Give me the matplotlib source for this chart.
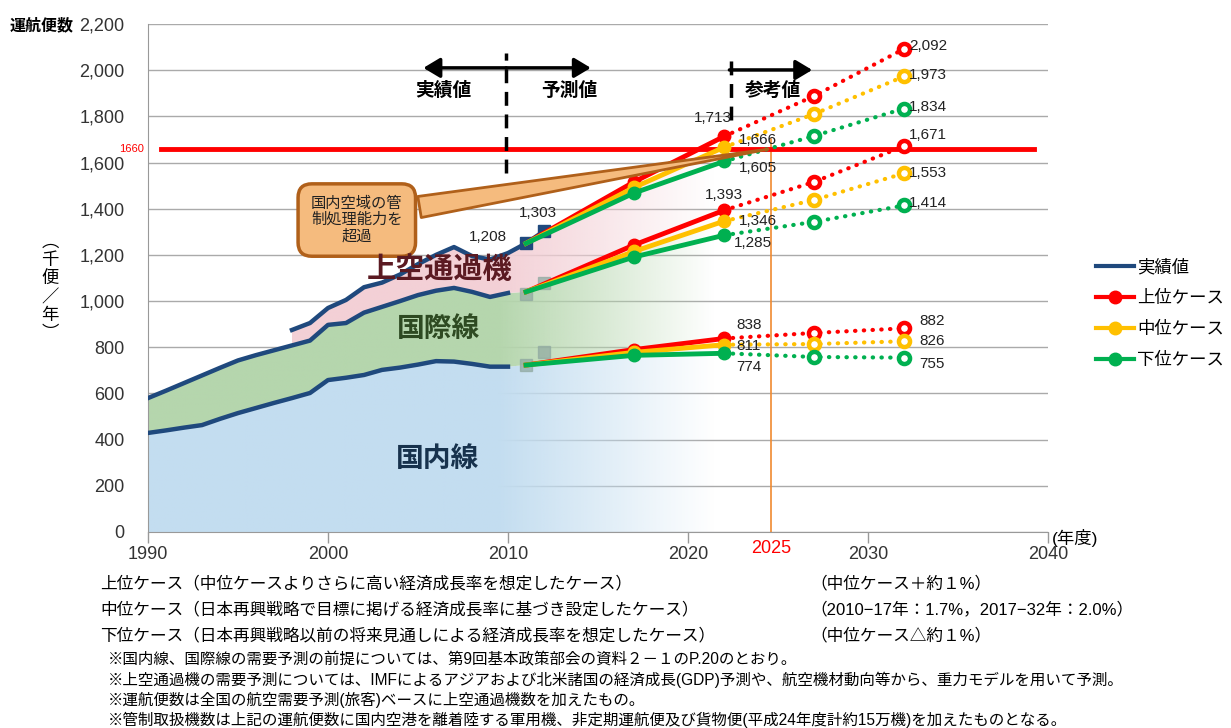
import numpy as np
import matplotlib
matplotlib.use('Agg')
import matplotlib.pyplot as plt
import matplotlib.colors as mcolors
from matplotlib.lines import Line2D

plt.rcParams['font.family'] = ['Liberation Sans', 'Noto Sans CJK JP', 'DejaVu Sans']

# 実績値 (千便/年)
years_act = list(range(1990, 2011))
domestic_act = [429, 440, 452, 463, 490, 515, 537, 559, 580, 602, 658,
                668, 680, 702, 712, 725, 740, 738, 728, 716, 716]
intl_act = [580, 612, 645, 678, 711, 743, 766, 787, 808, 829, 897,
            905, 950, 975, 1000, 1026, 1045, 1057, 1040, 1018, 1035]
years_total = list(range(1998, 2013))
total_act = [875, 905, 970, 1005, 1060, 1080, 1115, 1160, 1200, 1234,
             1195, 1180, 1208, 1250, 1303]
years_sq = [2011, 2012]
domestic_sq = [723, 780]
intl_sq = [1030, 1080]

# 予測値 / 参考値
years_fc = [2011, 2017, 2022, 2027, 2032]
total_high = [1250, 1516, 1713, 1888, 2092]
total_mid = [1250, 1492, 1666, 1810, 1973]
total_low = [1250, 1468, 1605, 1715, 1834]
intl_high = [1040, 1243, 1393, 1516, 1671]
intl_mid = [1040, 1215, 1346, 1438, 1553]
intl_low = [1040, 1191, 1285, 1343, 1414]
dom_high = [723, 790, 838, 862, 882]
dom_mid = [723, 778, 811, 814, 826]
dom_low = [723, 765, 774, 758, 755]

capacity = 1660
target_year = 2025

RED, YEL, GRN, NAVY = '#ff0000', '#ffc000', '#00b050', '#1f497d'

fig = plt.figure(figsize=(12.31, 7.28), dpi=100)
ax = fig.add_axes([148 / 1231, 1 - 532 / 728, 900 / 1231, 508 / 728])


def gradient_fill(x, lo, hi, color, start=2009.5, end=2021.5):
    poly = ax.fill_between(x, lo, hi, lw=0, facecolor='none')
    path = poly.get_paths()[0]
    poly.remove()
    gx = np.linspace(1990, 2023, 600)
    img = np.ones((2, gx.size, 4))
    img[..., :3] = mcolors.to_rgb(color)
    img[..., 3] = np.clip((end - gx) / (end - start), 0, 1)
    im = ax.imshow(img, extent=(1990, 2023, 0, 2200), origin='lower',
                   aspect='auto', interpolation='bilinear', zorder=1)
    im.set_clip_path(path, ax.transData)


# area fills (actual + middle case up to 2022)
fill_x = years_act + years_fc[:3]
fill_dom = domestic_act + dom_mid[:3]
fill_intl = intl_act + intl_mid[:3]
gradient_fill(fill_x, 0, fill_dom, '#c3ddf0')
gradient_fill(fill_x, fill_dom, fill_intl, '#b5d6ad')
pink_x = years_total[:13] + years_fc[:3]
gradient_fill(pink_x, intl_act[8:] + intl_mid[:3], total_act[:13] + total_mid[:3], '#f3d0d6')

# actual lines
ax.plot(years_act, domestic_act, color=NAVY, lw=3.2, zorder=3)
ax.plot(years_act, intl_act, color=NAVY, lw=3.2, zorder=3)
ax.plot(years_total, total_act, color=NAVY, lw=3.2, zorder=3,
        marker='s', ms=8, markevery=[13, 14])
ax.plot(years_sq, domestic_sq, ls='none', marker='s', ms=8, color='#8fa8a0', alpha=0.7, zorder=3)
ax.plot(years_sq, intl_sq, ls='none', marker='s', ms=8, color='#8fa8a0', alpha=0.7, zorder=3)

# forecast lines
for vals, col in [(total_high, RED), (total_mid, YEL), (total_low, GRN),
                  (intl_high, RED), (intl_mid, YEL), (intl_low, GRN),
                  (dom_high, RED), (dom_mid, YEL), (dom_low, GRN)]:
    ax.plot(years_fc[:3], vals[:3], color=col, lw=3.5, marker='o', ms=9,
            markevery=[1, 2], zorder=4)
    ax.plot(years_fc[2:], vals[2:], color=col, lw=3, ls=(0, (0.1, 2.0)),
            dash_capstyle='round', zorder=4)
    ax.plot(years_fc[3:], vals[3:], ls='none', marker='o', ms=8, mfc='white',
            mec=col, mew=3.2, zorder=4)

# capacity line
ax.plot([1990.7, 2039.2], [capacity, capacity], color=RED, lw=3.5, zorder=3.5)
ax.text(1989.8, capacity, str(capacity), color=RED, fontsize=8, ha='right',
        va='center', clip_on=False)
ax.plot([target_year - 0.4] * 2, [0, 1700], color='#f08a30', lw=1.2, zorder=3.4)

# data labels: (year, value, dx, dy, ha)
labels = [
    (2010, 1208, -20, 16, 'center'), (2012, 1303, -6, 18, 'center'),
    (2022, 1713, -11, 18, 'center'), (2022, 1666, 15, 7, 'left'), (2022, 1605, 15, -7, 'left'),
    (2022, 1393, 0, 15, 'center'), (2022, 1346, 15, 0, 'left'), (2022, 1285, 10, -8, 'left'),
    (2022, 838, 12, 13, 'left'), (2022, 811, 12, -1, 'left'), (2022, 774, 12, -14, 'left'),
    (2032, 2092, 5, 3, 'left'), (2032, 1973, 5, 1, 'left'), (2032, 1834, 5, 2, 'left'),
    (2032, 1671, 5, 11, 'left'), (2032, 1553, 5, 0, 'left'), (2032, 1414, 5, 2, 'left'),
    (2032, 882, 15, 7, 'left'), (2032, 826, 15, 0, 'left'), (2032, 755, 15, -6, 'left'),
]
for yr, v, dx, dy, ha in labels:
    ax.annotate(f'{v:,}', (yr, v), xytext=(dx, dy), textcoords='offset pixels',
                ha=ha, va='center', fontsize=11, color='#222222', zorder=7)

# area names
ax.text(2006.2, 1135, '上空通過機', fontsize=21, fontweight='bold', color='#5b1a22',
        ha='center', va='center', zorder=6)
ax.text(2006.15, 875, '国際線', fontsize=20, fontweight='bold', color='#2e4a22',
        ha='center', va='center', zorder=6)
ax.text(2006.1, 312, '国内線', fontsize=20, fontweight='bold', color='#17324d',
        ha='center', va='center', zorder=6)

# callout
ax.annotate('国内空域の管\n制処理能力を\n超過', xy=(target_year - 0.4, capacity), xytext=(2001.6, 1351),
            ha='center', va='center', fontsize=11, color='#222222', zorder=5, linespacing=1.15,
            bbox=dict(boxstyle='round,pad=0.85,rounding_size=0.9', fc='#f5bb7e', ec='#b0601a', lw=2.5),
            arrowprops=dict(arrowstyle='wedge,tail_width=1.4,shrink_factor=0.5', fc='#f5bb7e',
                            ec='#b0601a', lw=2, relpos=(1, 0.72)))

# period markers
ax.plot([2009.9, 2009.9], [1555, 2075], color='k', lw=2.5, ls=(0, (4, 2.5)), zorder=5)
ax.plot([2022.4, 2022.4], [1784, 2075], color='k', lw=2.5, ls=(0, (4, 2.5)), zorder=5)
arrow = dict(arrowstyle='-|>,head_length=0.5,head_width=0.3', lw=2.5, color='k',
             mutation_scale=20, shrinkA=0, shrinkB=0)
ax.annotate('', xy=(2005.3, 2010), xytext=(2009.9, 2010), arrowprops=arrow, zorder=5)
ax.annotate('', xy=(2014.6, 2010), xytext=(2009.9, 2010), arrowprops=arrow, zorder=5)
ax.annotate('', xy=(2026.9, 2001), xytext=(2022.3, 2001), arrowprops=arrow, zorder=5)
for x, s in [(2006.4, '実績値'), (2013.4, '予測値'), (2024.7, '参考値')]:
    ax.text(x, 1910, s, fontsize=13.5, fontweight='bold', ha='center', va='center', zorder=5)

# axes styling
ax.set_xlim(1990, 2040)
ax.set_ylim(0, 2200)
ax.set_yticks(range(0, 2201, 200))
ax.set_yticklabels([f'{v:,}' for v in range(0, 2201, 200)])
ax.set_xticks(range(1990, 2041, 10))
ax.tick_params(axis='y', length=0, pad=17, labelsize=13, labelcolor='#333333')
ax.tick_params(axis='x', length=8, width=1, color='#999999', pad=2, labelsize=13, labelcolor='#333333')
ax.grid(axis='y', color='#aaaaaa', lw=1)
ax.set_axisbelow(True)
for s in ['top', 'right']:
    ax.spines[s].set_visible(False)
for s in ['left', 'bottom']:
    ax.spines[s].set_color('#999999')
ax.text(target_year - 0.4, -70, str(target_year), color=RED, fontsize=13, ha='center', va='center', clip_on=False)
ax.text(2041.5, -26, '(年度)', fontsize=12.5, ha='center', va='center', clip_on=False)

fig.text(10 / 1231, 1 - 25 / 728, '運航便数', fontsize=11.5, fontweight='bold', va='center')
fig.text(50 / 1231, 1 - 288 / 728, '︵\n千\n便\n／\n年\n︶', fontsize=12.5, ha='center',
         va='center', linespacing=1.2)

# legend
handles = [Line2D([], [], color=NAVY, lw=3),
           Line2D([], [], color=RED, lw=3, marker='o', ms=9),
           Line2D([], [], color=YEL, lw=3, marker='o', ms=9),
           Line2D([], [], color=GRN, lw=3, marker='o', ms=9)]
fig.legend(handles, ['実績値', '上位ケース', '中位ケース', '下位ケース'], loc='upper left',
           bbox_to_anchor=(1080 / 1231, 1 - 243 / 728), frameon=False, fontsize=12.5,
           handlelength=2.2, handletextpad=0.2, labelspacing=0.85)

# footnotes
cases = ['上位ケース（中位ケースよりさらに高い経済成長率を想定したケース）',
         '中位ケース（日本再興戦略で目標に掲げる経済成長率に基づき設定したケース）',
         '下位ケース（日本再興戦略以前の将来見通しによる経済成長率を想定したケース）']
rates = ['（中位ケース＋約１%）', '（2010−17年：1.7%，2017−32年：2.0%）', '（中位ケース△約１%）']
for i, (c, r) in enumerate(zip(cases, rates)):
    y = 1 - (583 + 26 * i) / 728
    fig.text(100 / 1231, y, c, fontsize=12, va='center')
    fig.text(810 / 1231, y, r, fontsize=12, va='center')
notes = ['※国内線、国際線の需要予測の前提については、第9回基本政策部会の資料２－１のP.20のとおり。',
         '※上空通過機の需要予測については、IMFによるアジアおよび北米諸国の経済成長(GDP)予測や、航空機材動向等から、重力モデルを用いて予測。',
         '※運航便数は全国の航空需要予測(旅客)ベースに上空通過機数を加えたもの。',
         '※管制取扱機数は上記の運航便数に国内空港を離着陸する軍用機、非定期運航便及び貨物便(平成24年度計約15万機)を加えたものとなる。']
for i, n in enumerate(notes):
    fig.text(108 / 1231, 1 - (660 + 20 * i) / 728, n, fontsize=11.2, va='center')

fig.savefig('out.png', dpi=100)
